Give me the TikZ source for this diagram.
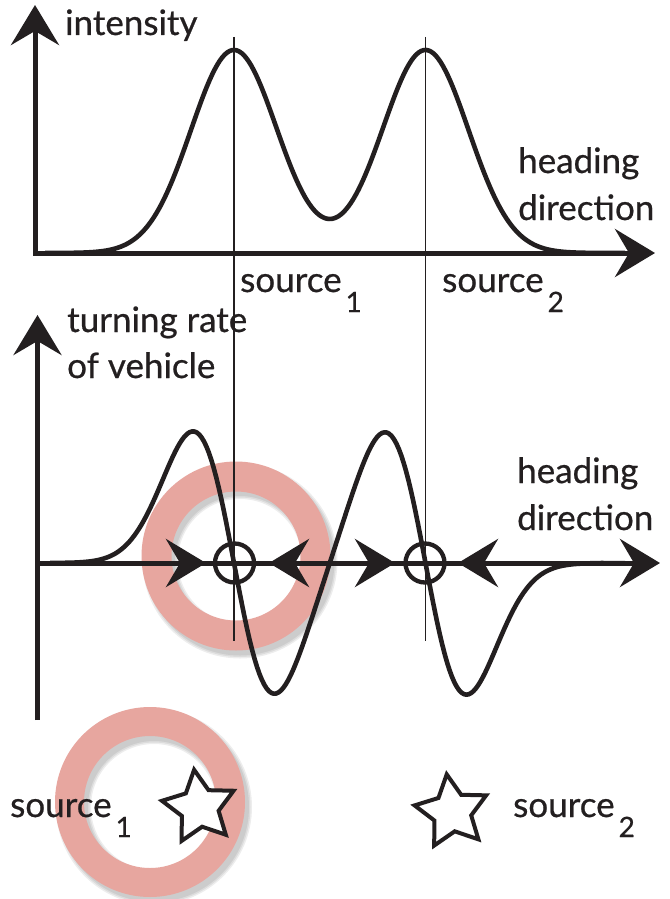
\documentclass[tikz,border=0pt]{standalone}
\usepackage{fontspec}
\setmainfont{Lato}[FakeBold=0.6]
\usetikzlibrary{arrows.meta}
\definecolor{ink}{HTML}{231F20}
\definecolor{ringpink}{HTML}{E7A69F}
\newcommand{\srclabel}[1]{source\kern4pt\raisebox{-20pt}{\fontsize{28}{28}\selectfont #1}}
\tikzset{
  bighead/.tip={Stealth[length=40pt,width=48pt,inset=14pt]},
  axisline/.style={draw=ink, line width=5pt, line join=miter},
  curveline/.style={draw=ink, line width=4.6pt, line join=round},
  guideline/.style={draw=ink, line width=1.7pt},
  fixpt/.style={draw=ink, line width=4.3pt},
  lbl/.style={inner sep=0pt, anchor=base west, text=ink, font=\fontsize{35}{35}\selectfont},
  starline/.style={draw=ink, line width=4pt, fill=white, line join=miter},
  ringfill/.style={fill=ringpink, even odd rule},
  ringshadow/.style={fill=black, opacity=0.07, even odd rule}
}
\begin{document}
\begin{tikzpicture}[x=1pt,y=-1pt]
\useasboundingbox (0,0) rectangle (669,899);
\fill[white] (0,0) rectangle (669,899);

% rings with soft shadow
\foreach \d in {0,1.5,3}{
  \fill[ringshadow] (240,561) circle ({94.5+\d}) (240,561) circle ({65-\d});
  \fill[ringshadow] (154,807) circle ({95+\d}) (154,807) circle ({66-\d});
}
\fill[ringfill] (236,556) circle (94.5) (236,556) circle (64.5);
\fill[ringfill] (150,802) circle (95) (150,802) circle (66);

% guide lines
\coordinate (g1t) at (234,37);
\coordinate (g1b) at (234,641);
\coordinate (g2t) at (425.5,37);
\coordinate (g2b) at (425.5,641);
\draw[guideline] (g1t) -- (g1b);
\draw[guideline] (g2t) -- (g2b);

% top axes
\coordinate (tO) at (35,253);
\coordinate (tY) at (35,5);
\coordinate (tX) at (655,253);
\draw[axisline, bighead-bighead] (tY) -- (tO) -- (tX);

% top curve
\draw[curveline] plot[domain=45:625, samples=240]
  (\x, {253 - 203*(exp(-0.5*((\x-234)/43)^2) + exp(-0.5*((\x-425.5)/43)^2))});

% bottom axes
\coordinate (bB) at (37.5,720);
\coordinate (bY) at (37.5,315);
\coordinate (bO) at (37.5,563);
\coordinate (bX) at (660,563);
\draw[axisline, -bighead] (bB) -- (bY);
\draw[axisline, -bighead] (bO) -- (bX);

% bottom curve
\draw[curveline] plot[domain=50:625, samples=240]
  (\x, {563 + 217*(((\x-234)/41)*exp(-0.5*((\x-234)/41)^2) + ((\x-425.5)/41)*exp(-0.5*((\x-425.5)/41)^2))});

% flow arrows on the axis
\coordinate (a1s) at (160,563); \coordinate (a1t) at (206,563);
\coordinate (a2s) at (316,563); \coordinate (a2t) at (269,563);
\coordinate (a3s) at (349,563); \coordinate (a3t) at (395,563);
\coordinate (a4s) at (505,563); \coordinate (a4t) at (458,563);
\draw[axisline, -bighead] (a1s) -- (a1t);
\draw[axisline, -bighead] (a2s) -- (a2t);
\draw[axisline, -bighead] (a3s) -- (a3t);
\draw[axisline, -bighead] (a4s) -- (a4t);

% fixed points
\draw[fixpt] (234.5,563) circle (19.5);
\draw[fixpt] (425,563) circle (19.5);

% labels
\node[lbl] (intensity) at (65,35) {intensity};
\node[lbl] (hd1a) at (518,173) {heading};
\node[lbl] (hd1b) at (518,220) {direction};
\node[lbl] (s1top) at (240,292) {\srclabel{1}};
\node[lbl] (s2top) at (442,292) {\srclabel{2}};
\node[lbl] (tr1) at (67,332) {turning rate};
\node[lbl] (tr2) at (67,378) {of vehicle};
\node[lbl] (hd2a) at (517,483) {heading};
\node[lbl] (hd2b) at (517,530) {direction};
\node[lbl] (s1bot) at (10,817) {\srclabel{1}};
\node[lbl] (s2bot) at (513,817) {\srclabel{2}};

% stars
\draw[starline] ({199.4+38*cos(98)},{807.4-38*sin(98)})
  \foreach \a/\r in {134/19.5,170/38,206/19.5,242/38,278/19.5,314/38,350/19.5,26/38,62/19.5}
  { -- ({199.4+\r*cos(\a)},{807.4-\r*sin(\a)}) } -- cycle;
\draw[starline] ({452+38*cos(98)},{812-38*sin(98)})
  \foreach \a/\r in {134/19.5,170/38,206/19.5,242/38,278/19.5,314/38,350/19.5,26/38,62/19.5}
  { -- ({452+\r*cos(\a)},{812-\r*sin(\a)}) } -- cycle;
\end{tikzpicture}
\end{document}
